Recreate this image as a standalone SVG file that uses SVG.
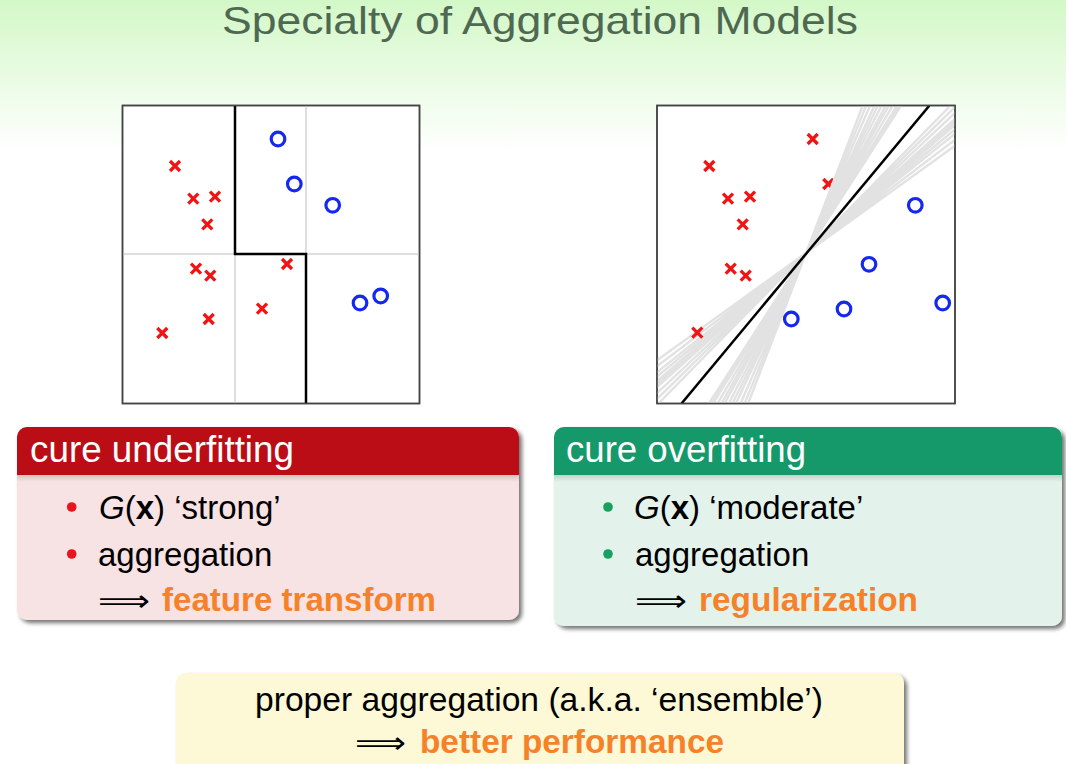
<svg xmlns="http://www.w3.org/2000/svg" width="1066" height="764" viewBox="0 0 1066 764">
<defs>
  <linearGradient id="bg" x1="0" y1="0" x2="0" y2="1">
    <stop offset="0" stop-color="#d3f8c7"/>
    <stop offset="0.2" stop-color="#ffffff"/>
    <stop offset="1" stop-color="#ffffff"/>
  </linearGradient>
  <linearGradient id="band" x1="0" y1="0" x2="0" y2="1">
    <stop offset="0" stop-color="#000" stop-opacity="0.14"/>
    <stop offset="1" stop-color="#000" stop-opacity="0"/>
  </linearGradient>
  <filter id="shadow" x="-5%" y="-5%" width="112%" height="115%">
    <feGaussianBlur in="SourceAlpha" stdDeviation="2"/>
    <feOffset dx="3" dy="3" result="b"/>
    <feComponentTransfer><feFuncA type="linear" slope="0.55"/></feComponentTransfer>
    <feMerge><feMergeNode/><feMergeNode in="SourceGraphic"/></feMerge>
  </filter>
  <clipPath id="clipR"><rect x="657" y="105.5" width="298" height="298"/></clipPath>
  <g id="xm"><path d="M-5,-5 L5,5 M-5,5 L5,-5" fill="none" stroke="#f01414" stroke-width="3.3"/></g>
  <g id="om"><circle r="6.8" fill="none" stroke="#1428f0" stroke-width="3.2"/></g>
</defs>
<style>
  .t { font-family: "Liberation Sans", Arial, sans-serif; }
  .body { font-size: 33px; fill: #000; }
  .hdr { font-size: 37px; fill: #fff; }
  .em { font-weight: bold; fill: #f5822a; }
  .arr { font-family: "DejaVu Sans", sans-serif; font-size: 30px; fill: #000; }
  .frame { fill: #fff; stroke: #444; stroke-width: 1.5; }
</style>
<rect x="0" y="0" width="1066" height="764" fill="url(#bg)"/>

<text id="title" class="t" x="222" y="34" font-size="39" fill="#4f6852" textLength="636" lengthAdjust="spacingAndGlyphs">Specialty of Aggregation Models</text>

<g id="plot-left">
  <rect class="frame" x="122.5" y="105.5" width="297" height="298"/>
  <path d="M235,105.5 V403.5 M306,105.5 V403.5 M122.5,254 H419.5" stroke="#dedede" stroke-width="2" fill="none"/>
  <path d="M235,105.5 V254 H306 V403.5" stroke="#000" stroke-width="2.5" fill="none"/>
  <use href="#om" x="278" y="139"/>
  <use href="#om" x="294.3" y="184"/>
  <use href="#om" x="332.7" y="205.3"/>
  <use href="#om" x="360" y="303"/>
  <use href="#om" x="380.7" y="296"/>
  <use href="#xm" x="175" y="166"/>
  <use href="#xm" x="193.3" y="198.7"/>
  <use href="#xm" x="215" y="196.7"/>
  <use href="#xm" x="207.3" y="224.3"/>
  <use href="#xm" x="196" y="268.7"/>
  <use href="#xm" x="210.3" y="275.7"/>
  <use href="#xm" x="287" y="264"/>
  <use href="#xm" x="262" y="308.7"/>
  <use href="#xm" x="208.7" y="319"/>
  <use href="#xm" x="162.3" y="333"/>
  <rect x="122.5" y="105.5" width="297" height="298" fill="none" stroke="#444" stroke-width="1.5"/>
</g>

<g id="plot-right">
  <rect class="frame" x="657" y="105.5" width="298" height="298"/>
  <use href="#xm" x="828.3" y="184"/>
  <g clip-path="url(#clipR)">
    <path fill="none" stroke="#e2e2e2" stroke-width="2.4" d="M606,563 L1006,-57 M606,577 L1006,-71 M606,593 L1006,-87 M606,609 L1006,-103 M606,623 L1006,-117 M606,643 L1006,-137 M606,663 L1006,-157 M606,683 L1006,-177 M606,713 L1006,-207 M606,743 L1006,-237 M606,773 L1006,-267 M606,397 L1006,109 M606,405 L1006,101 M606,413 L1006,93 M606,419 L1006,87 M606,425 L1006,81 M606,433 L1006,73 M606,441 L1006,65 M606,449 L1006,57 M606,457 L1006,49 M606,429 L1006,77 M606,573 L1006,-67"/>
  </g>
  <use href="#om" x="915.3" y="205.3"/>
  <use href="#om" x="869" y="264.3"/>
  <use href="#om" x="844" y="309"/>
  <use href="#om" x="791.3" y="319"/>
  <use href="#om" x="942.7" y="303"/>
  <use href="#xm" x="812.7" y="139"/>
  <use href="#xm" x="709.3" y="166"/>
  <use href="#xm" x="728" y="198.7"/>
  <use href="#xm" x="750" y="196.7"/>
  <use href="#xm" x="742.7" y="224.3"/>
  <use href="#xm" x="730.7" y="268.7"/>
  <use href="#xm" x="745.7" y="275.7"/>
  <use href="#xm" x="697.3" y="332.7"/>
  <g clip-path="url(#clipR)">
    <path d="M681.7,403.3 L929.3,105.7" stroke="#000" stroke-width="2.5" fill="none"/>
  </g>
  <rect x="657" y="105.5" width="298" height="298" fill="none" stroke="#444" stroke-width="1.5"/>
</g>

<g id="box-underfit">
  <g filter="url(#shadow)">
    <rect x="17" y="427" width="502" height="193" rx="10" fill="#f7e3e3"/>
    <path d="M17,475 V437 A10,10 0 0 1 27,427 H509 A10,10 0 0 1 519,437 V475 Z" fill="#bb0a14"/>
  </g>
  <rect x="17" y="475" width="502" height="7" fill="url(#band)"/>
  <text class="t hdr" x="30" y="462" textLength="264" lengthAdjust="spacingAndGlyphs">cure underfitting</text>
  <circle cx="71.7" cy="507" r="4.8" fill="#e8141e"/>
  <text class="t body" x="99" y="519"><tspan font-style="italic">G</tspan>(<tspan font-weight="bold">x</tspan>) ‘strong’</text>
  <circle cx="71.7" cy="554" r="4.8" fill="#e8141e"/>
  <text class="t body" x="98" y="566">aggregation</text>
  <text class="arr" x="98" y="611" textLength="52" lengthAdjust="spacingAndGlyphs">⟹</text>
  <text class="t body em" x="162" y="611" textLength="274" lengthAdjust="spacingAndGlyphs">feature transform</text>
</g>

<g id="box-overfit">
  <g filter="url(#shadow)">
    <rect x="554" y="427" width="508" height="199" rx="10" fill="#e3f3ec"/>
    <path d="M554,475 V437 A10,10 0 0 1 564,427 H1052 A10,10 0 0 1 1062,437 V475 Z" fill="#17996a"/>
  </g>
  <rect x="554" y="475" width="508" height="7" fill="url(#band)"/>
  <text class="t hdr" x="566" y="462" textLength="240" lengthAdjust="spacingAndGlyphs">cure overfitting</text>
  <circle cx="608" cy="507" r="4.8" fill="#17a05f"/>
  <text class="t body" x="634" y="519"><tspan font-style="italic">G</tspan>(<tspan font-weight="bold">x</tspan>) ‘moderate’</text>
  <circle cx="608" cy="554" r="4.8" fill="#17a05f"/>
  <text class="t body" x="635" y="566">aggregation</text>
  <text class="arr" x="635" y="611" textLength="52" lengthAdjust="spacingAndGlyphs">⟹</text>
  <text class="t body em" x="699" y="611" textLength="219" lengthAdjust="spacingAndGlyphs">regularization</text>
</g>

<g id="box-ensemble">
  <rect x="176" y="673" width="728" height="120" rx="10" fill="#fdf8d5" filter="url(#shadow)"/>
  <text class="t body" x="255" y="711" textLength="568" lengthAdjust="spacingAndGlyphs">proper aggregation (a.k.a. ‘ensemble’)</text>
  <text class="arr" x="355" y="753" textLength="51" lengthAdjust="spacingAndGlyphs">⟹</text>
  <text class="t body em" x="420" y="753" textLength="304" lengthAdjust="spacingAndGlyphs">better performance</text>
</g>
</svg>
